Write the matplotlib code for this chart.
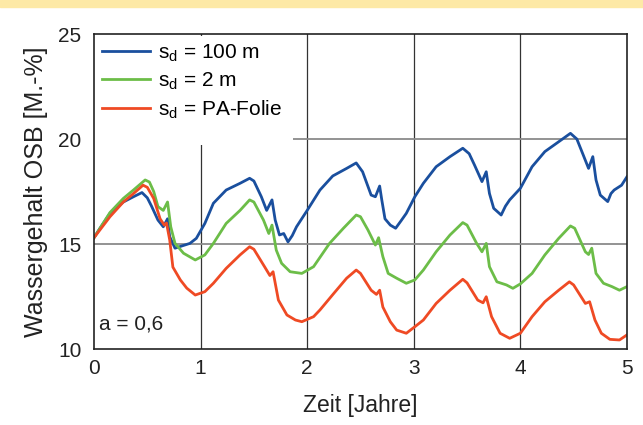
import matplotlib.pyplot as plt
from matplotlib.patches import Rectangle

plt.rcParams['font.family'] = ['Liberation Sans', 'DejaVu Sans']
plt.rcParams['mathtext.fontset'] = 'custom'
plt.rcParams['mathtext.rm'] = 'Liberation Sans'

# Zeit [Jahre] und Wassergehalt [M.-%]
t_100 = [0, 0.056, 0.15, 0.275, 0.37, 0.45, 0.50, 0.54, 0.60, 0.65, 0.69, 0.71, 0.76, 0.82, 0.90,
         0.96, 1.04, 1.12, 1.24, 1.37, 1.46, 1.50, 1.57, 1.62, 1.67, 1.70, 1.74, 1.78, 1.82, 1.86,
         1.90, 2.0, 2.12, 2.24, 2.37, 2.46, 2.52, 2.60, 2.64, 2.68, 2.70, 2.73, 2.78, 2.83, 2.88,
         2.93, 3.01, 3.09, 3.21, 3.34, 3.46, 3.52, 3.57, 3.64, 3.68, 3.71, 3.75, 3.82, 3.86, 3.90,
         4.0, 4.11, 4.23, 4.36, 4.47, 4.53, 4.59, 4.64, 4.68, 4.71, 4.75, 4.82, 4.85, 4.88, 4.95, 5.0]
sd_100 = [15.3, 15.75, 16.46, 17.0, 17.25, 17.45, 17.2, 16.8, 16.14, 15.82, 16.2, 15.35, 14.8, 14.9, 15.03,
          15.27, 15.98, 16.94, 17.57, 17.89, 18.13, 18.0, 17.25, 16.6, 17.1, 16.14, 15.43, 15.5, 15.1, 15.4,
          15.82, 16.6, 17.57, 18.24, 18.6, 18.86, 18.44, 17.33, 17.25, 17.76, 17.1, 16.2, 15.9, 15.75, 16.1,
          16.46, 17.25, 17.89, 18.68, 19.16, 19.56, 19.3, 18.76, 17.97, 18.44, 17.41, 16.7, 16.38, 16.8, 17.1,
          17.65, 18.68, 19.4, 19.87, 20.27, 20.0, 19.24, 18.6, 19.16, 18.05, 17.33, 17.02, 17.4, 17.57, 17.8, 18.2]

t_2 = [0, 0.15, 0.275, 0.37, 0.48, 0.52, 0.56, 0.60, 0.65, 0.69, 0.72, 0.76, 0.84, 0.95, 1.04,
       1.12, 1.24, 1.37, 1.46, 1.50, 1.59, 1.64, 1.67, 1.71, 1.76, 1.84, 1.95, 2.06, 2.21, 2.34,
       2.46, 2.50, 2.57, 2.64, 2.67, 2.71, 2.76, 2.84, 2.93, 3.01, 3.09, 3.21, 3.34, 3.46, 3.50,
       3.59, 3.64, 3.68, 3.71, 3.78, 3.87, 3.93, 4.0, 4.11, 4.23, 4.36, 4.47, 4.51, 4.61, 4.64,
       4.67, 4.71, 4.78, 4.86, 4.93, 5.0]
sd_2 = [15.3, 16.5, 17.17, 17.57, 18.05, 17.95, 17.5, 16.78, 16.6, 17.0, 15.82, 15.03, 14.56, 14.24, 14.48,
        15.03, 15.98, 16.6, 17.1, 17.0, 16.14, 15.5, 15.9, 14.71, 14.08, 13.68, 13.6, 13.92, 15.03, 15.75,
        16.38, 16.3, 15.67, 14.95, 15.3, 14.4, 13.6, 13.37, 13.13, 13.29, 13.76, 14.63, 15.43, 16.02, 15.9,
        15.03, 14.63, 15.03, 13.92, 13.2, 13.05, 12.89, 13.1, 13.6, 14.48, 15.27, 15.86, 15.75, 14.63, 14.5,
        14.8, 13.6, 13.13, 12.97, 12.8, 12.97]

t_pa = [0, 0.15, 0.275, 0.37, 0.46, 0.50, 0.56, 0.62, 0.66, 0.68, 0.71, 0.74, 0.81, 0.87, 0.95,
        1.04, 1.12, 1.24, 1.37, 1.46, 1.50, 1.60, 1.65, 1.68, 1.73, 1.81, 1.89, 1.95, 2.06, 2.12,
        2.25, 2.37, 2.46, 2.50, 2.60, 2.65, 2.68, 2.71, 2.78, 2.84, 2.93, 3.01, 3.09, 3.21, 3.34,
        3.46, 3.50, 3.60, 3.65, 3.68, 3.73, 3.81, 3.90, 4.0, 4.11, 4.23, 4.36, 4.46, 4.50, 4.61,
        4.65, 4.70, 4.76, 4.84, 4.93, 5.0]
sd_pa = [15.3, 16.3, 17.0, 17.4, 17.8, 17.7, 17.17, 16.2, 15.9, 16.0, 15.2, 13.9, 13.29, 12.9, 12.57,
         12.73, 13.13, 13.84, 14.48, 14.87, 14.75, 13.92, 13.5, 13.68, 12.33, 11.62, 11.38, 11.3, 11.54, 11.86,
         12.65, 13.37, 13.76, 13.6, 12.8, 12.6, 12.8, 12.0, 11.3, 10.9, 10.75, 11.06, 11.38, 12.17, 12.8,
         13.32, 13.15, 12.33, 12.2, 12.49, 11.54, 10.75, 10.51, 10.75, 11.54, 12.25, 12.8, 13.2, 13.05, 12.17,
         12.25, 11.38, 10.75, 10.46, 10.43, 10.67]

fig = plt.figure(figsize=(6.43, 4.25), dpi=100)
fig.patches.append(Rectangle((0, 0.983), 1, 0.017, transform=fig.transFigure,
                             color='#fde9a6', zorder=0))
ax = fig.add_axes([0.1462, 0.1788, 0.8288, 0.7412])

ax.plot(t_100, sd_100, color='#1a4f9e', lw=2.0, label=r's$_\mathrm{d}$ = 100 m')
ax.plot(t_2, sd_2, color='#6cbd48', lw=2.0, label=r's$_\mathrm{d}$ = 2 m')
ax.plot(t_pa, sd_pa, color='#ef4a24', lw=2.0, label=r's$_\mathrm{d}$ = PA-Folie')

for x in [1, 2, 3, 4]:
    ax.axvline(x, color='#333333', lw=0.9, zorder=0.5)
for y in [15, 20]:
    ax.axhline(y, color='#8a8a8a', lw=1.3, zorder=0.5)
# weisser Hintergrund der Legende verdeckt das Gitter
ax.add_patch(Rectangle((0, 19.7), 1.87, 5.2, facecolor='white', edgecolor='none', zorder=0.7))

ax.set_xlim(0, 5)
ax.set_ylim(10, 25)
ax.set_xticks([0, 1, 2, 3, 4, 5])
ax.set_yticks([10, 15, 20, 25])
ax.tick_params(length=0, labelsize=15, colors='#222222')
ax.tick_params(axis='x', pad=7)
ax.tick_params(axis='y', pad=9)
ax.set_xlabel('Zeit [Jahre]', fontsize=16.5, labelpad=12, color='#222222')
ax.set_ylabel('Wassergehalt OSB [M.-%]', fontsize=18, labelpad=7, color='#222222')
for s in ax.spines.values():
    s.set_linewidth(1.2)
    s.set_color('#222222')

leg = ax.legend(loc='upper left', fontsize=15, frameon=False,
                borderaxespad=0.2, handlelength=2.3, handletextpad=0.35,
                labelspacing=0.3, borderpad=0.2)

ax.text(0.05, 11.2, 'a = 0,6', fontsize=15, va='center', ha='left', color='#222222')

fig.savefig('out.png', dpi=100)
